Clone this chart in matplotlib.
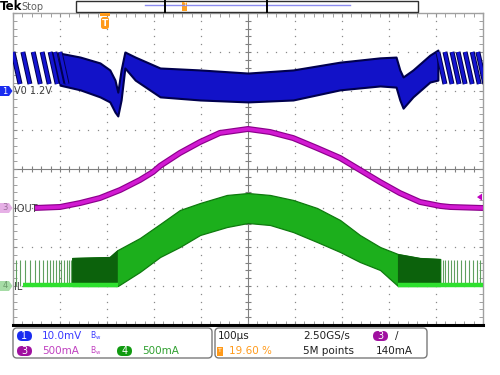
import matplotlib.pyplot as plt
from matplotlib.patches import FancyBboxPatch, Polygon, Rectangle

plt.rcParams['font.family'] = ['Liberation Sans Narrow', 'DejaVu Sans']

# ---- waveform data, time in us (100 us/div, centre = 0) ----
# CH1: VO ripple, mV relative to 1.2 V (10 mV/div)
vo_t = [-400, -357, -315, -294, -283, -277, -270, -262, -240, -187, -102, 0,
        96, 196, 281, 315, 323, 330, 351, 387, 404]
vo_hi = [9.7, 8.7, 7.2, 5.4, 2.8, -0.3, 5.4, 10.0, 8.7, 5.9, 5.4, 4.6,
         5.4, 7.4, 8.5, 8.7, 5.4, 3.6, 5.4, 9.2, 10.5]
vo_lo = [1.5, 0.3, -1.5, -2.8, -5.4, -6.4, -2.3, 5.9, 2.8, -1.5, -2.3, -2.8,
         -2.3, 0.3, 1.3, 1.0, -2.3, -4.4, -1.5, 2.3, 2.8]
# light-load sawtooth teeth (start times), top / bottom in mV
teeth_left = [-500, -479, -457, -438, -421, -411, -400]
teeth_right = [404, 419, 434, 447, 462, 477, 489]
tooth_top = 10.0
tooth_bot = 1.8
tooth_fall = 15

# CH3: IOUT in mA (500 mA/div)
iout_t = [-455, -400, -357, -315, -272, -230, -202, -187, -145, -102, -60, 0,
          47, 96, 147, 196, 281, 323, 366, 409, 430, 500]
iout_ma = [0, 13, 64, 128, 231, 359, 462, 540, 705, 846, 962, 1013,
           974, 897, 769, 641, 333, 192, 77, 26, 13, 0]

# CH4: IL envelope in mA (500 mA/div)
il_t = [-374, -294, -277, -230, -187, -145, -102, -45, 0, 47, 96, 147,
        196, 238, 281, 319, 366, 409]
il_hi = [359, 372, 462, 615, 795, 974, 1064, 1167, 1192, 1167, 1103, 1000,
         846, 654, 500, 410, 359, 346]
il_lo = [0, 0, 0, 180, 372, 500, 654, 756, 808, 782, 692, 564,
         436, 308, 205, 0, 0, 0]
# single DCM pulses before / after the burst
il_spikes = [-494, -485, -474, -464, -453, -445, -436, -428, -421, -415, -409,
             -402, -398, -391, -385, -381, -377,
             409, 415, 419, 426, 432, 438, 445, 453, 462, 470, 479, 487, 494]
il_spike_ma = 333
il_base_t = [[-479, -277], [319, 500]]
il_base_ma = 15

# channel settings: (units per div, ground position in div)
ch1_scale, ch1_pos = 10.0, 2.0
ch3_scale, ch3_pos = 500.0, -1.0
ch4_scale, ch4_pos = 500.0, -3.0


def div(vals, scale, pos):
    return [pos + v / scale for v in vals]


fig = plt.figure(figsize=(5, 3.75), dpi=100)
fig.patch.set_facecolor('white')

# graticule area in pixels: x 13..483, y 13..325
ax = fig.add_axes([13 / 500, 50 / 375, 470 / 500, 312 / 375])
ax.set_xlim(-500, 500)
ax.set_ylim(-4, 4)
ax.set_xticks(range(-500, 501, 100))
ax.set_xticks(range(-500, 501, 20), minor=True)
ax.set_yticks([i for i in range(-4, 5)])
ax.set_yticks([i / 5 for i in range(-20, 21)], minor=True)
ax.tick_params(which='both', direction='in', length=3, color='#909090',
               top=True, right=True, labelleft=False, labelbottom=False)
for s in ['left', 'right', 'top']:
    ax.spines[s].set_color('#a0a0a0')
    ax.spines[s].set_linewidth(1)
ax.spines['bottom'].set_color('black')
ax.spines['bottom'].set_linewidth(2.2)

# dotted grid
minor_x = list(range(-500, 501, 20))
minor_y = [i / 5 for i in range(-20, 21)]
for gx in range(-400, 401, 100):
    if gx == 0:
        continue
    ax.plot([gx] * len(minor_y), minor_y, ls='none', marker='s', ms=0.9,
            mew=0, color='#8a8a8a', zorder=1)
for gy in range(-3, 4):
    if gy == 0:
        continue
    ax.plot(minor_x, [gy] * len(minor_x), ls='none', marker='s', ms=0.9,
            mew=0, color='#8a8a8a', zorder=1)
# centre crosshair with ticks
ax.axhline(0, color='#808080', lw=0.8, zorder=1)
ax.axvline(0, color='#808080', lw=0.8, zorder=1)
ax.plot(minor_x, [0] * len(minor_x), ls='none', marker='|', ms=4,
        mew=0.8, color='#808080', zorder=1)
ax.plot([0] * len(minor_y), minor_y, ls='none', marker='_', ms=4,
        mew=0.8, color='#808080', zorder=1)

# CH4 IL
il_hi_d = div(il_hi, ch4_scale, ch4_pos)
il_lo_d = div(il_lo, ch4_scale, ch4_pos)
ax.vlines(il_spikes, ch4_pos, ch4_pos + il_spike_ma / ch4_scale,
          color='#5f9f5f', lw=0.8, zorder=2)
ax.fill_between(il_t, il_lo_d, il_hi_d, facecolor='#1caf1c',
                edgecolor='#0e7a0e', lw=0.9, zorder=3)
ax.fill_between(il_t, il_lo_d, il_hi_d, where=[v == 0 for v in il_lo],
                facecolor='#0c620c', edgecolor='none', zorder=3)
for seg in il_base_t:
    ax.plot(seg, div([il_base_ma] * 2, ch4_scale, ch4_pos), color='#2ee02e',
            lw=3.2, solid_capstyle='butt', zorder=4)

# CH3 IOUT
iout_d = div(iout_ma, ch3_scale, ch3_pos)
ax.plot(iout_t, iout_d, color='#8c008c', lw=4.3, zorder=5,
        solid_capstyle='butt')
ax.plot(iout_t, iout_d, color='#d21ad2', lw=2.6, zorder=5,
        solid_capstyle='butt')

# CH1 VO
ax.fill_between(vo_t, div(vo_lo, ch1_scale, ch1_pos),
                div(vo_hi, ch1_scale, ch1_pos), facecolor='#1212c8',
                edgecolor='#00004e', lw=1.5, zorder=6)
tx, ty = [], []
for t0 in teeth_left + teeth_right:
    tx += [t0, t0 + tooth_fall, None]
    ty += [ch1_pos + tooth_top / ch1_scale, ch1_pos + tooth_bot / ch1_scale, None]
ax.plot(tx, ty, color='#00004e', lw=3.6, zorder=6, solid_capstyle='butt')
ax.plot(tx, ty, color='#1414d0', lw=2.2, zorder=6, solid_capstyle='butt')


# ---- overlay in pixel coordinates ----
ov = fig.add_axes([0, 0, 1, 1])
ov.set_xlim(0, 500)
ov.set_ylim(375, 0)
ov.axis('off')


def ypx(d):
    return 13 + (4 - d) / 8 * 312


# top status line
ov.text(0, 7, 'Tek', fontsize=8.5, fontweight='bold', va='center', ha='left')
ov.text(21, 7, 'Stop', fontsize=7, color='#606060', va='center', ha='left')
ov.add_patch(Rectangle((76, 0.5), 342, 11.5, facecolor='white',
                       edgecolor='#303030', lw=1))
ov.plot([145, 350], [5, 5], color='#8c8cf0', lw=1)
ov.plot([165, 165], [0.5, 12], color='black', lw=1.4)
ov.plot([267, 267], [0.5, 12], color='black', lw=1.4)
ov.add_patch(Rectangle((182, 1.5), 5, 9, facecolor='#ffa020', edgecolor='none'))
ov.text(184.5, 5, 'T', fontsize=4, color='white', ha='center', va='center')

# trigger position marker
ov.add_patch(Rectangle((100, 13), 10, 2.5, facecolor='#ff9a1a', edgecolor='none'))
ov.add_patch(FancyBboxPatch((101, 17), 8, 12, boxstyle='round,pad=0,rounding_size=2.5',
                            facecolor='#ff9a1a', edgecolor='none'))
ov.text(105, 23, 'T', fontsize=6.5, fontweight='bold', color='white',
        ha='center', va='center')

# channel ground markers
for pos, face, txtc, num, lab in [(ch1_pos, '#1a2cf0', 'white', '1', 'V0 1.2V'),
                                  (ch3_pos, '#e6b0e6', '#9a709a', '3', 'IOUT'),
                                  (ch4_pos, '#a6dca6', '#6a9a6a', '4', 'IL')]:
    y = ypx(pos)
    ov.add_patch(Polygon([(0, y - 5), (9, y - 5), (12.5, y), (9, y + 5), (0, y + 5)],
                         closed=True, facecolor=face, edgecolor='none'))
    ov.text(5, y, num, fontsize=6, color=txtc, ha='center', va='center')
    ov.text(14, y + 0.5, lab, fontsize=7, color='#404040', ha='left', va='center')

# trigger level arrow (140 mA on CH3)
trig_y = ypx(ch3_pos + 140 / ch3_scale)
ov.add_patch(Polygon([(477, trig_y), (482, trig_y - 3.5), (482, trig_y + 3.5)],
                     closed=True, facecolor='#c000c0', edgecolor='none'))

# bottom readout boxes
ov.add_patch(FancyBboxPatch((13, 328), 199, 30, boxstyle='round,pad=0,rounding_size=4',
                            facecolor='white', edgecolor='#7a7a7a', lw=1))
ov.add_patch(FancyBboxPatch((215, 328), 212, 30, boxstyle='round,pad=0,rounding_size=4',
                            facecolor='white', edgecolor='#7a7a7a', lw=1))


def pill(x, y, face, num):
    ov.add_patch(FancyBboxPatch((x, y - 5), 15, 10,
                                boxstyle='round,pad=0,rounding_size=5',
                                facecolor=face, edgecolor='none'))
    ov.text(x + 7.5, y, num, fontsize=7, color='white', ha='center', va='center')


r1, r2 = 336, 351
pill(17, r1, '#1a2cf0', '1')
ov.text(42, r1, '10.0mV', fontsize=7.5, color='#3a3aff', va='center')
ov.text(90, r1, r'$\mathregular{B_w}$', fontsize=5.5, color='#3a3aff', va='center')
pill(17, r2, '#a010a0', '3')
ov.text(42, r2, '500mA', fontsize=7.5, color='#c040c0', va='center')
ov.text(90, r2, r'$\mathregular{B_w}$', fontsize=5.5, color='#c040c0', va='center')
pill(117, r2, '#109a10', '4')
ov.text(142, r2, '500mA', fontsize=7.5, color='#30a030', va='center')

ov.text(218, r1, '100\u00b5s', fontsize=7.5, color='#202020', va='center')
ov.add_patch(Rectangle((217, r2 - 4.5), 6, 9, facecolor='#ff9a1a', edgecolor='none'))
ov.text(220, r2, 'T', fontsize=4.5, color='white', ha='center', va='center')
ov.text(229, r2, '19.60 %', fontsize=7.5, color='#ff9a1a', va='center')
ov.text(303, r1, '2.50GS/s', fontsize=7.5, color='#202020', va='center')
ov.text(303, r2, '5M points', fontsize=7.5, color='#202020', va='center')
pill(373, r1, '#a010a0', '3')
ov.text(395, r1, '/', fontsize=7.5, color='#202020', va='center')
ov.text(376, r2, '140mA', fontsize=7.5, color='#202020', va='center')

plt.savefig('out.png', dpi=100)
